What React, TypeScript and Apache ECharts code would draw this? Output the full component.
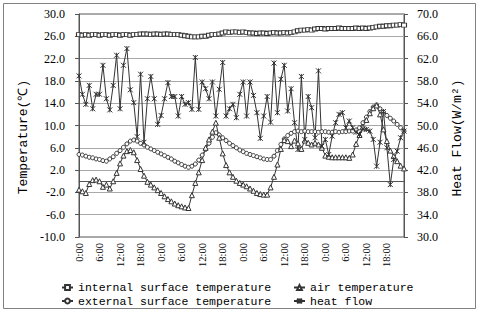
import React, { useEffect, useRef } from 'react';
import * as echarts from 'echarts';

// hourly categories over four days (labels shown every 6 h)
const hours: string[] = Array.from({ length: 96 }, (_, i) => `${i % 24}:00`);

const tempAxis = { min: -10, max: 30, step: 4 };
const fluxAxis = { min: 30, max: 70, step: 4 };

const seriesNames = [
  'internal surface temperature',
  'external surface temperature',
  'air temperature',
  'heat flow',
];

const internalSurface = [
  26.3, 26.2, 26.3, 26.2, 26.3, 26.3, 26.2, 26.3, 26.3, 26.2,
  26.3, 26.3, 26.2, 26.3, 26.3, 26.2, 26.3, 26.3, 26.4, 26.4,
  26.4, 26.3, 26.4, 26.4, 26.3, 26.4, 26.4, 26.3, 26.3, 26.3,
  26.2, 26.1, 26.0, 25.9, 25.9, 25.9, 26.0, 26.0, 26.2, 26.3,
  26.3, 26.4, 26.6, 26.8, 26.7, 26.8, 26.8, 26.7, 26.8, 26.7,
  26.6, 26.6, 26.5, 26.6, 26.6, 26.5, 26.6, 26.7, 26.6, 26.6,
  26.7, 26.6, 26.7, 26.8, 27.0, 27.1, 27.1, 27.2, 27.1, 27.3,
  27.4, 27.4, 27.3, 27.4, 27.4, 27.4, 27.5, 27.4, 27.4, 27.4,
  27.4, 27.5, 27.4, 27.5, 27.4, 27.5, 27.6, 27.7, 27.8, 27.8,
  27.9, 27.9, 28.0, 28.0, 28.1, 28.0,
];

const externalSurface = [
  4.8, 4.7, 4.5, 4.3, 4.2, 4.0, 3.9, 3.7, 3.6, 4.0,
  4.4, 5.0, 5.5, 6.1, 6.7, 7.2, 7.4, 7.2, 6.8, 6.5,
  6.1, 5.8, 5.5, 5.2, 4.9, 4.6, 4.3, 4.0, 3.6, 3.3,
  3.0, 2.7, 2.5, 2.7, 3.1, 3.8, 4.7, 5.7, 6.8, 7.9,
  8.7, 8.3, 7.8, 7.3, 6.8, 6.4, 6.0, 5.6, 5.3, 5.0,
  4.8, 4.6, 4.4, 4.2, 4.0, 3.9, 3.9, 4.5, 5.5, 6.6,
  7.6, 8.2, 8.6, 8.9, 9.0, 8.9, 9.0, 8.9, 8.9, 8.9,
  8.8, 8.9, 8.9, 8.8, 8.8, 8.9, 8.8, 8.9, 8.9, 9.0,
  9.0, 9.2, 9.6, 10.5, 11.5, 12.5, 13.3, 13.7, 13.0, 12.4,
  11.8, 11.3, 10.8, 10.2, 9.6, 9.0,
];

const airTemperature = [
  -1.5, -1.8, -2.1, -0.5, 0.2, 0.3, 0.0, -1.0, -0.6, -1.3,
  0.0, 1.5, 3.2, 4.6, 5.4, 5.6, 5.2, 3.8, 2.2, 1.0,
  -0.1, -0.6, -1.1, -1.6, -2.1, -2.7, -3.2, -3.6, -4.0, -4.3,
  -4.5, -4.7, -4.8, -2.5, -0.3, 1.6, 3.8, 6.0, 7.5, 8.9,
  10.5, 7.8, 5.0, 2.9, 1.6, 0.8, 0.1, -0.3, -0.6, -0.9,
  -1.3, -1.7, -2.1, -2.3, -2.4, -2.4, -1.1, 0.8, 3.0, 5.8,
  7.4, 7.2, 6.3, 7.3, 6.8, 5.8, 7.3, 6.9, 6.6, 6.9,
  6.6, 6.0, 4.6, 4.4, 4.3, 4.3, 4.3, 4.3, 4.3, 4.2,
  4.8, 6.7, 8.3, 9.8, 11.0, 12.2, 13.1, 13.6, 12.0, 9.3,
  7.2, 5.5, 4.5, 3.6, 2.8, 2.3,
];

const heatFlow = [
  58.9, 55.6, 53.8, 57.2, 53.0, 55.6, 55.6, 60.8, 54.8, 52.8,
  57.2, 62.6, 53.0, 60.8, 63.8, 56.4, 54.1, 48.0, 59.2, 47.0,
  54.8, 58.8, 54.8, 50.2, 51.8, 54.8, 57.7, 55.2, 55.2, 51.7,
  55.2, 53.8, 54.1, 52.9, 62.2, 52.9, 57.8, 56.6, 54.8, 57.8,
  51.7, 56.5, 61.3, 51.7, 53.0, 53.8, 51.4, 55.6, 57.8, 51.7,
  57.8, 55.4, 52.3, 47.7, 51.7, 55.2, 50.6, 61.2, 52.3, 58.3,
  60.8, 52.6, 56.6, 50.5, 45.7, 58.8, 47.5, 55.2, 53.2, 47.8,
  59.8, 46.3, 47.5, 44.8, 48.1, 50.5, 52.0, 52.3, 49.6, 50.8,
  49.6, 48.8, 48.4, 49.4, 49.3, 49.0, 47.5, 42.7, 47.0, 52.5,
  46.0, 39.4, 43.9, 45.4, 47.8, 49.0,
];

const LINE = '#333333';
const SERIF = 'Liberation Serif';
const MONO = 'Liberation Mono';

function lineSeries(name: string, data: number[], symbol: string, size: any, yAxisIndex = 0) {
  return {
    name,
    type: 'line',
    data,
    yAxisIndex,
    symbol,
    symbolSize: size,
    showAllSymbol: true,
    color: LINE,
    lineStyle: { color: LINE, width: 1 },
    itemStyle: { color: '#ffffff', borderColor: LINE, borderWidth: 1 },
    emphasis: { disabled: true },
    z: 3,
  };
}

function legendAt(name: string, left: number, top: number) {
  return {
    left,
    top,
    padding: 0,
    orient: 'horizontal',
    itemWidth: 11,
    itemHeight: 6,
    itemGap: 0,
    data: [name],
    textStyle: { fontFamily: MONO, fontSize: 11.5, color: '#000', lineHeight: 11 },
  };
}

export default function App() {
  const ref = useRef<HTMLDivElement>(null);
  useEffect(() => {
    if (!ref.current) return;
    const chart = echarts.init(ref.current, undefined, { renderer: 'svg' });
    chart.setOption({
      animation: false,
      backgroundColor: '#ffffff',
      grid: { left: 79, right: 76, top: 14, bottom: 76, show: true, borderColor: '#555', borderWidth: 1 },
      xAxis: {
        type: 'category',
        data: hours,
        boundaryGap: false,
        axisLine: { lineStyle: { color: '#555' } },
        axisTick: { show: false },
        axisLabel: {
          interval: 5,
          rotate: 90,
          fontFamily: SERIF,
          fontSize: 10.5,
          color: '#000',
          margin: 6,
        },
        splitLine: { show: false },
      },
      yAxis: [
        {
          type: 'value',
          min: tempAxis.min,
          max: tempAxis.max,
          interval: tempAxis.step,
          position: 'left',
          axisLine: { show: true, lineStyle: { color: '#555' } },
          axisTick: { show: true, length: 4, lineStyle: { color: '#555' } },
          axisLabel: {
            formatter: (v: number) => v.toFixed(1),
            fontFamily: SERIF,
            fontSize: 12,
            color: '#000',
            margin: 14,
          },
          splitLine: { show: true, lineStyle: { color: '#a8a8a8', width: 1 } },
        },
        {
          type: 'value',
          min: fluxAxis.min,
          max: fluxAxis.max,
          interval: fluxAxis.step,
          position: 'right',
          axisLine: { show: true, lineStyle: { color: '#555' } },
          axisTick: { show: true, length: 4, lineStyle: { color: '#555' } },
          axisLabel: {
            formatter: (v: number) => v.toFixed(1),
            fontFamily: SERIF,
            fontSize: 12,
            color: '#000',
            margin: 13,
          },
          splitLine: { show: false },
        },
      ],
      legend: [
        legendAt(seriesNames[0], 61, 281.5),
        legendAt(seriesNames[1], 61, 295),
        legendAt(seriesNames[2], 293, 281.5),
        legendAt(seriesNames[3], 293, 295),
      ],
      graphic: [
        {
          type: 'rect',
          shape: { x: 3.5, y: 3.5, width: 472, height: 305 },
          style: { fill: 'none', stroke: '#808080', lineWidth: 1 },
          silent: true,
        },
        {
          type: 'text',
          x: 23,
          y: 137,
          rotation: Math.PI / 2,
          style: {
            text: 'Temperature(℃)',
            font: `13px ${MONO}`,
            fill: '#000',
            align: 'center',
            verticalAlign: 'middle',
          },
          silent: true,
        },
        {
          type: 'text',
          x: 457,
          y: 138,
          rotation: Math.PI / 2,
          style: {
            text: 'Heat Flow(W/m²)',
            font: `13px ${MONO}`,
            fill: '#000',
            align: 'center',
            verticalAlign: 'middle',
          },
          silent: true,
        },
      ],
      series: [
        lineSeries(seriesNames[0], internalSurface, 'rect', [5, 4]),
        lineSeries(seriesNames[1], externalSurface, 'circle', 4),
        lineSeries(seriesNames[2], airTemperature, 'triangle', 5),
        lineSeries(seriesNames[3], heatFlow, 'path://M0,0L10,10M10,0L0,10M5,0L5,10', 5, 1),
      ],
    });
    return () => chart.dispose();
  }, []);
  return (
    <div
      ref={ref}
      style={{ position: 'fixed', left: 0, top: 0, width: 480, height: 313, background: '#fff' }}
    />
  );
}
